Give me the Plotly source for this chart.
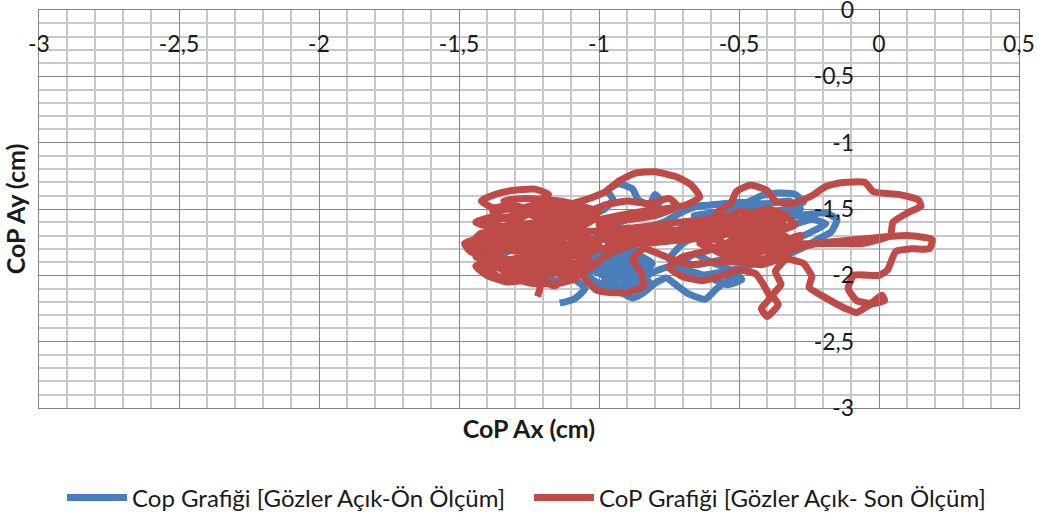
import plotly.graph_objects as go

# Centre-of-pressure paths (x, y in cm)
ON_OLCUM = [
    (-1.14, -2.21), (-1.09, -2.18), (-1.05, -2.10), (-1.09, -2.03), (-1.16, -2.04),
    (-1.23, -2.00), (-1.30, -1.95), (-1.36, -1.88), (-1.39, -1.80), (-1.34, -1.72),
    (-1.27, -1.67), (-1.19, -1.63), (-1.11, -1.59), (-1.04, -1.55), (-0.98, -1.50),
    (-0.95, -1.43), (-0.97, -1.36), (-0.93, -1.31), (-0.88, -1.35), (-0.86, -1.43),
    (-0.82, -1.47), (-0.80, -1.39), (-0.78, -1.44), (-0.83, -1.53), (-0.90, -1.58),
    (-0.96, -1.63), (-1.01, -1.71), (-1.05, -1.80), (-1.03, -1.90), (-0.98, -1.98),
    (-0.91, -2.03), (-0.85, -1.99), (-0.81, -1.91), (-0.86, -1.85), (-0.93, -1.86),
    (-0.99, -1.93), (-0.94, -1.99), (-0.87, -1.95), (-0.91, -1.89), (-0.97, -1.82),
    (-0.90, -1.77), (-0.82, -1.74), (-0.75, -1.69), (-0.69, -1.63), (-0.63, -1.57),
    (-0.56, -1.51), (-0.49, -1.47), (-0.42, -1.40), (-0.36, -1.38), (-0.30, -1.39),
    (-0.27, -1.45), (-0.33, -1.50), (-0.40, -1.53), (-0.33, -1.56), (-0.25, -1.54),
    (-0.19, -1.53), (-0.15, -1.58), (-0.17, -1.67), (-0.22, -1.73), (-0.28, -1.80),
    (-0.34, -1.85), (-0.41, -1.88), (-0.48, -1.94), (-0.53, -2.02), (-0.58, -2.10),
    (-0.62, -2.18), (-0.68, -2.14), (-0.72, -2.08), (-0.76, -2.02), (-0.80, -2.06),
    (-0.84, -2.13), (-0.88, -2.17), (-0.93, -2.12), (-0.99, -2.09), (-1.05, -2.02),
    (-1.00, -1.86), (-0.90, -1.84), (-0.84, -1.90), (-0.92, -1.94), (-1.02, -1.96),
    (-0.96, -2.02), (-0.86, -2.00), (-0.82, -2.05), (-0.90, -2.08), (-1.00, -2.06),
    (-1.04, -2.00), (-0.98, -1.90), (-0.88, -1.88), (-0.82, -1.96), (-0.88, -2.03),
    (-0.96, -1.98), (-1.02, -1.92), (-0.94, -1.86), (-0.86, -1.82), (-0.92, -1.78),
    (-1.10, -1.95), (-1.16, -1.88), (-1.23, -1.83), (-1.31, -1.81), (-1.36, -1.86),
    (-1.29, -1.91), (-1.21, -1.93), (-1.13, -1.87), (-1.06, -1.79), (-0.99, -1.73),
    (-0.91, -1.68), (-0.83, -1.64), (-0.76, -1.59), (-0.71, -1.53), (-0.65, -1.48),
    (-0.60, -1.47), (-0.50, -1.45), (-0.40, -1.46), (-0.32, -1.44), (-0.28, -1.50),
    (-0.36, -1.52), (-0.46, -1.50), (-0.56, -1.52), (-0.66, -1.55),
    (-0.59, -1.54), (-0.53, -1.61), (-0.47, -1.67), (-0.41, -1.73), (-0.35, -1.77),
    (-0.29, -1.72), (-0.23, -1.66), (-0.19, -1.61), (-0.24, -1.58), (-0.31, -1.62),
    (-0.38, -1.66), (-0.45, -1.62), (-0.52, -1.56), (-0.58, -1.62), (-0.64, -1.69),
    (-0.70, -1.76), (-0.75, -1.88), (-0.65, -1.92), (-0.55, -1.88), (-0.45, -1.92),
    (-0.55, -1.97), (-0.65, -2.00), (-0.72, -1.95), (-0.66, -1.84), (-0.60, -1.90),
    (-0.53, -1.96), (-0.49, -2.03), (-0.54, -2.07), (-0.60, -2.02), (-0.67, -1.97),
    (-0.74, -1.93), (-0.80, -1.97), (-0.86, -2.04), (-0.92, -2.08), (-0.98, -2.03),
    (-0.93, -1.96), (-0.87, -1.90), (-0.92, -1.83), (-0.98, -1.88), (-0.95, -1.94),
    (-0.89, -1.98), (-0.84, -1.92), (-0.88, -1.84), (-0.95, -1.78), (-1.02, -1.85),
    (-0.97, -1.91), (-0.90, -1.93), (-0.85, -1.88),
]

SON_OLCUM = [
    (-1.22, -2.16), (-1.21, -2.08), (-1.26, -2.04), (-1.33, -2.05), (-1.40, -2.00),
    (-1.44, -1.93), (-1.38, -1.88), (-1.46, -1.82), (-1.48, -1.76), (-1.42, -1.72),
    (-1.35, -1.74), (-1.30, -1.68), (-1.38, -1.64), (-1.44, -1.60), (-1.38, -1.56),
    (-1.30, -1.58), (-1.24, -1.52), (-1.31, -1.47), (-1.38, -1.49), (-1.42, -1.44),
    (-1.37, -1.39), (-1.31, -1.36), (-1.23, -1.35), (-1.18, -1.39), (-1.22, -1.44),
    (-1.15, -1.48), (-1.08, -1.45), (-1.02, -1.41), (-0.97, -1.36), (-0.93, -1.29),
    (-0.87, -1.23), (-0.80, -1.22), (-0.72, -1.26), (-0.67, -1.32), (-0.64, -1.41),
    (-0.69, -1.47), (-0.77, -1.50), (-0.85, -1.52), (-0.93, -1.55), (-1.01, -1.58),
    (-1.10, -1.56), (-1.20, -1.53), (-1.30, -1.55), (-1.40, -1.60), (-1.32, -1.64),
    (-1.22, -1.60), (-1.12, -1.63), (-1.04, -1.60), (-1.10, -1.68), (-1.20, -1.66),
    (-1.30, -1.70), (-1.42, -1.68), (-1.45, -1.75), (-1.36, -1.78), (-1.26, -1.74),
    (-1.16, -1.72), (-1.06, -1.70), (-1.00, -1.76), (-1.08, -1.80), (-1.18, -1.78),
    (-1.28, -1.82), (-1.38, -1.80), (-1.44, -1.86), (-1.36, -1.90), (-1.26, -1.86),
    (-1.16, -1.85), (-1.06, -1.86), (-1.02, -1.92), (-1.10, -1.95), (-1.20, -1.92),
    (-1.30, -1.95), (-1.40, -1.94), (-1.36, -2.01), (-1.26, -2.00), (-1.16, -1.98),
    (-1.08, -2.02), (-1.14, -2.06), (-1.24, -2.06), (-1.30, -2.02), (-1.24, -1.96),
    (-1.14, -1.92), (-1.04, -1.89), (-1.12, -1.83), (-1.22, -1.84), (-1.32, -1.88),
    (-1.40, -1.84), (-1.34, -1.77), (-1.24, -1.78), (-1.14, -1.76), (-1.06, -1.78),
    (-1.12, -1.70), (-1.22, -1.70), (-1.34, -1.72), (-1.40, -1.66), (-1.30, -1.62),
    (-1.20, -1.64), (-1.10, -1.60), (-1.18, -1.56), (-1.28, -1.50), (-1.20, -1.46),
    (-1.12, -1.50), (-1.04, -1.52), (-0.98, -1.47), (-0.90, -1.44), (-0.82, -1.46),
    (-0.75, -1.42), (-0.72, -1.48), (-0.80, -1.55), (-0.90, -1.58), (-1.00, -1.62),
    (-0.92, -1.65), (-0.82, -1.63), (-0.72, -1.60), (-0.62, -1.58), (-0.55, -1.55),
    (-0.60, -1.64), (-0.70, -1.68), (-0.80, -1.70), (-0.92, -1.72), (-1.00, -1.70),
    (-0.94, -1.77), (-0.84, -1.76), (-0.74, -1.74), (-0.64, -1.72), (-0.56, -1.68),
    (-0.50, -1.62), (-0.58, -1.53), (-0.53, -1.46), (-0.51, -1.37), (-0.46, -1.32),
    (-0.40, -1.36), (-0.37, -1.44), (-0.31, -1.46), (-0.24, -1.40), (-0.19, -1.33),
    (-0.13, -1.30), (-0.05, -1.30), (-0.02, -1.37), (0.07, -1.39), (0.14, -1.43),
    (0.15, -1.48), (0.11, -1.52), (0.05, -1.60), (0.04, -1.70), (-0.06, -1.76),
    (-0.16, -1.76), (-0.28, -1.76), (-0.36, -1.72), (-0.42, -1.65), (-0.48, -1.59),
    (-0.40, -1.56), (-0.34, -1.62), (-0.38, -1.70), (-0.45, -1.78), (-0.52, -1.83),
    (-0.46, -1.89), (-0.38, -1.86), (-0.30, -1.80), (-0.22, -1.76), (-0.08, -1.73),
    (0.10, -1.70), (0.19, -1.73), (0.18, -1.80), (0.12, -1.80), (0.06, -1.82),
    (0.03, -1.96), (0.00, -2.00), (-0.09, -2.00), (-0.11, -2.10), (-0.08, -2.19),
    (-0.03, -2.21), (0.01, -2.15), (0.02, -2.19), (-0.03, -2.22), (-0.08, -2.28),
    (-0.12, -2.25), (-0.19, -2.17), (-0.25, -2.09), (-0.24, -2.01), (-0.27, -1.91),
    (-0.33, -1.88), (-0.37, -1.97), (-0.35, -2.07), (-0.38, -2.15), (-0.36, -2.22),
    (-0.40, -2.31), (-0.42, -2.25), (-0.39, -2.17), (-0.41, -2.08), (-0.44, -1.99),
    (-0.50, -1.96), (-0.57, -2.01), (-0.63, -2.04), (-0.70, -2.01), (-0.75, -1.94),
    (-0.70, -1.86), (-0.62, -1.82), (-0.55, -1.76), (-0.48, -1.70), (-0.40, -1.64),
    (-0.34, -1.58), (-0.42, -1.54), (-0.50, -1.52), (-0.56, -1.60), (-0.50, -1.68),
    (-0.42, -1.72), (-0.34, -1.70), (-0.30, -1.76), (-0.38, -1.80), (-0.46, -1.84),
    (-0.54, -1.86), (-0.58, -1.80), (-0.50, -1.74), (-0.44, -1.66), (-0.38, -1.60),
    (-0.44, -1.58), (-0.52, -1.64), (-0.58, -1.70), (-0.64, -1.76), (-0.56, -1.80),
    (-0.48, -1.78), (-0.40, -1.82), (-0.34, -1.86), (-0.42, -1.92), (-0.50, -1.90),
    (-0.60, -1.90), (-0.68, -1.92), (-0.76, -1.86), (-0.84, -1.80), (-0.88, -1.88),
    (-0.85, -1.98), (-0.84, -2.08), (-0.90, -2.13), (-0.96, -2.13), (-1.01, -2.11),
    (-1.06, -2.00), (-1.10, -1.93), (-1.16, -1.90), (-1.22, -1.94), (-1.30, -1.92),
    (-1.36, -1.84), (-1.32, -1.76), (-1.26, -1.70), (-1.18, -1.69), (-1.12, -1.76),
    (-1.06, -1.82), (-0.99, -1.80), (-0.92, -1.76), (-0.84, -1.72), (-0.76, -1.69),
    (-0.68, -1.64), (-0.60, -1.61), (-0.52, -1.62), (-0.45, -1.67), (-0.40, -1.74),
    (-0.44, -1.73), (-0.52, -1.70), (-0.62, -1.66), (-0.74, -1.66), (-0.86, -1.64),
    (-0.98, -1.66), (-1.08, -1.68), (-1.18, -1.72), (-1.30, -1.76), (-1.40, -1.70),
    (-1.46, -1.78), (-1.40, -1.83), (-1.32, -1.80), (-1.26, -1.84), (-1.34, -1.92),
    (-1.42, -1.96), (-1.36, -2.03), (-1.28, -1.98), (-1.20, -2.00), (-1.12, -1.96),
    (-1.18, -1.90), (-1.26, -1.90), (-1.20, -1.84), (-1.12, -1.80), (-1.04, -1.84),
    (-1.00, -1.78), (-1.06, -1.74), (-1.14, -1.68), (-1.22, -1.62), (-1.30, -1.60),
    (-1.38, -1.52), (-1.30, -1.50), (-1.22, -1.56), (-1.14, -1.54), (-1.06, -1.56),
    (-1.00, -1.52), (-1.06, -1.48), (-1.14, -1.44), (-1.26, -1.42), (-1.34, -1.44),
    (-1.30, -1.52), (-1.20, -1.50), (-1.10, -1.52), (-1.02, -1.58), (-1.08, -1.64),
    (-1.16, -1.62), (-1.26, -1.66), (-1.36, -1.68), (-1.44, -1.72), (-1.38, -1.76),
    (-1.30, -1.74), (-1.20, -1.76), (-1.12, -1.78), (-1.04, -1.80), (-1.10, -1.86),
    (-1.18, -1.88), (-1.28, -1.88), (-1.36, -1.94), (-1.30, -2.00), (-1.22, -2.02),
    (-1.16, -2.08), (-1.10, -2.00), (-1.04, -1.96), (-0.98, -1.86), (-0.92, -1.80),
    (-0.86, -1.76), (-0.78, -1.74), (-0.70, -1.72), (-0.62, -1.68), (-0.54, -1.64),
    (-0.48, -1.56), (-0.40, -1.50), (-0.34, -1.54), (-0.30, -1.62), (-0.36, -1.66),
    (-0.44, -1.62), (-0.52, -1.58), (-0.56, -1.66), (-0.50, -1.72), (-0.42, -1.76),
    (-0.34, -1.74), (-0.28, -1.70), (-0.32, -1.82), (-0.40, -1.88), (-0.48, -1.86),
    (-0.56, -1.84), (-0.62, -1.76), (-0.56, -1.70), (-0.48, -1.64), (-0.40, -1.68),
    (-0.36, -1.76), (-0.44, -1.80), (-0.52, -1.78), (-0.60, -1.72), (-0.68, -1.70),
    (-0.76, -1.72), (-0.84, -1.68), (-0.92, -1.70), (-0.98, -1.66),
]

SERIES_NAMES = ["Cop Grafiği [Gözler Açık-Ön Ölçüm]", "CoP Grafiği [Gözler Açık- Son Ölçüm]"]
SERIES_COLORS = ["#4A7EBB", "#BE4B48"]

X_RANGE = [-3, 0.5]
Y_RANGE = [-3, 0]
X_TICKS = [-3, -2.5, -2, -1.5, -1, -0.5, 0, 0.5]
Y_TICKS = [-3, -2.5, -2, -1.5, -1, -0.5, 0]


def fmt(v):
    return ("%g" % v).replace(".", ",")


FONT = "Lato, Noto Sans, sans-serif"
TXT = "#1A1A1A"
MAJOR = "#868686"
MINOR = "#C8C8C8"

fig = go.Figure()
# first series on the gridded axes, second on the value axes that cross at zero
for path, name, color, xa, ya in zip([ON_OLCUM, SON_OLCUM], SERIES_NAMES, SERIES_COLORS,
                                     ["x", "x2"], ["y", "y2"]):
    fig.add_trace(go.Scatter(
        x=[p[0] for p in path], y=[p[1] for p in path],
        mode="lines", name=name, xaxis=xa, yaxis=ya,
        line=dict(color=color, width=7, shape="spline", smoothing=0.5),
    ))

grid_common = dict(
    showgrid=True, gridcolor=MAJOR, gridwidth=1.4,
    minor=dict(dtick=0.1, showgrid=True, gridcolor=MINOR, gridwidth=2),
    zeroline=False, showticklabels=False, ticks="",
    showline=True, linecolor=MAJOR, linewidth=1.4, mirror=True, automargin=False,
)

fig.update_layout(
    width=1049, height=526,
    margin=dict(l=39, r=30, t=10, b=118, autoexpand=False),
    paper_bgcolor="white", plot_bgcolor="white",
    font=dict(family=FONT, size=24, color=TXT),
    showlegend=True,
    legend=dict(orientation="h", x=0.5, xanchor="center", y=-0.226, yanchor="middle",
                font=dict(family=FONT, size=24, color=TXT), itemwidth=60,
                entrywidth=392, entrywidthmode="pixels", traceorder="normal"),
    xaxis=dict(range=X_RANGE, tick0=-3, dtick=0.5, **grid_common,
               title=dict(text="<b>CoP Ax (cm)</b>", standoff=12,
                          font=dict(family=FONT, size=25, color=TXT))),
    yaxis=dict(range=Y_RANGE, tick0=-3, dtick=0.5, **grid_common,
               title=dict(text="<b>CoP Ay (cm)</b>", standoff=8,
                          font=dict(family=FONT, size=25, color=TXT))),
    # value axes crossing the plot at y = 0 and x = 0
    xaxis2=dict(range=X_RANGE, overlaying="x", anchor="free", position=1, side="bottom",
                tickmode="array", tickvals=X_TICKS, ticktext=[fmt(v) for v in X_TICKS],
                showgrid=False, zeroline=False, showline=False, ticks="",
                ticklabelstandoff=18, ticklabeloverflow="allow", automargin=False,
                tickfont=dict(family=FONT, size=23, color=TXT)),
    yaxis2=dict(range=Y_RANGE, overlaying="y", anchor="free",
                position=(0 - X_RANGE[0]) / (X_RANGE[1] - X_RANGE[0]), side="left",
                tickmode="array", tickvals=Y_TICKS, ticktext=[fmt(v) for v in Y_TICKS],
                showgrid=False, zeroline=False, showline=True, linecolor=MAJOR, linewidth=1.4,
                ticks="", ticklabelstandoff=20, ticklabeloverflow="allow", automargin=False,
                tickfont=dict(family=FONT, size=23, color=TXT)),
)

fig.write_html("out.html")
